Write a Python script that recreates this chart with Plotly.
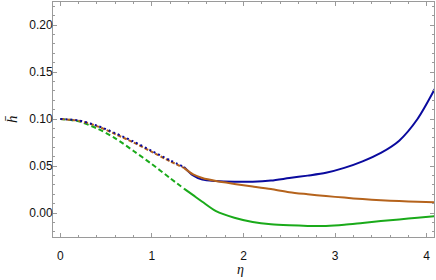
import plotly.graph_objects as go

# dashed / dotted (small-eta) part
eta_a = [0, 0.2, 0.4, 0.6, 0.8, 1.0, 1.2, 1.35]
blue_a = [0.100, 0.0985, 0.0930, 0.0850, 0.0760, 0.0660, 0.0560, 0.0490]
orange_a = [0.100, 0.0982, 0.0925, 0.0840, 0.0750, 0.0650, 0.0550, 0.0480]
green_a = [0.100, 0.0975, 0.0900, 0.0795, 0.0660, 0.0520, 0.0370, 0.0260]

# solid (large-eta) part
eta_b = [1.35, 1.45, 1.55, 1.7, 1.9, 2.1, 2.3, 2.5, 2.7, 2.9, 3.1, 3.3, 3.5, 3.7, 3.9, 4.1]
blue_b = [0.0490, 0.0400, 0.0355, 0.0340, 0.0333, 0.0333, 0.0345, 0.0372, 0.0398, 0.0428, 0.0480, 0.0550, 0.0640, 0.0770, 0.1000, 0.1340]
orange_b = [0.0480, 0.0410, 0.0372, 0.0340, 0.0310, 0.0283, 0.0255, 0.0222, 0.0200, 0.0180, 0.0164, 0.0148, 0.0136, 0.0127, 0.0120, 0.0113]
green_b = [0.0260, 0.0190, 0.0120, 0.0020, -0.0050, -0.0095, -0.0120, -0.0131, -0.0137, -0.0137, -0.0125, -0.0105, -0.0085, -0.0068, -0.0050, -0.0032]

BLUE = "#0a0a9e"
ORANGE = "#b5631c"
GREEN = "#1aaa1a"

W, H = 436, 280
ML, MR, MT, MB = 53, 2, 2, 43

fig = go.Figure()
for x, y, c, d in [
    (eta_a, green_a, GREEN, "5px,3px"),
    (eta_a, orange_a, ORANGE, "4px,2px"),
    (eta_a, blue_a, BLUE, "2px,3px"),
]:
    fig.add_trace(go.Scatter(x=x, y=y, mode="lines", line=dict(color=c, width=2, dash=d, shape="spline", smoothing=0.8), showlegend=False))
for x, y, c in [
    (eta_b, green_b, GREEN),
    (eta_b, blue_b, BLUE),
    (eta_b, orange_b, ORANGE),
]:
    fig.add_trace(go.Scatter(x=x, y=y, mode="lines", line=dict(color=c, width=2, shape="spline", smoothing=0.8), showlegend=False))

axis_common = dict(
    showgrid=False, zeroline=False, showline=True, linecolor="#9a9a9a", linewidth=1,
    mirror="allticks", ticks="inside", ticklen=4, tickcolor="#9a9a9a", tickwidth=1,
    tickfont=dict(family="Liberation Sans, Arial", size=12, color="#111"),
)
fig.update_xaxes(
    range=[-0.08, 4.08], tickvals=[0, 1, 2, 3, 4], ticktext=["0", "1", "2", "3", "4"],
    minor=dict(dtick=0.2, tick0=0, ticks="inside", ticklen=2, tickcolor="#9a9a9a"),
    ticklabelstandoff=8,
    **axis_common,
)
fig.update_yaxes(
    range=[-0.0255, 0.2245], tickvals=[0, 0.05, 0.1, 0.15, 0.2],
    ticktext=["0.00", "0.05", "0.10", "0.15", "0.20"],
    minor=dict(dtick=0.01, tick0=0, ticks="inside", ticklen=2, tickcolor="#9a9a9a"),
    ticklabelstandoff=-3,
    **axis_common,
)
pw = W - ML - MR
ph = H - MT - MB
title_font = dict(family="Liberation Serif, serif", size=14, color="#111")
fig.add_annotation(text="<i>h̄</i>", xref="paper", yref="paper",
                   x=(11.5 - ML) / pw, y=(H - MB - 119.5) / ph,
                   xanchor="center", yanchor="middle", textangle=-90,
                   showarrow=False, font=dict(family="Liberation Serif, serif", size=15, color="#111"))
fig.add_annotation(text="<i>η</i>", xref="paper", yref="paper",
                   x=(240 - ML) / pw, y=(H - MB - 269) / ph,
                   xanchor="center", yanchor="middle",
                   showarrow=False, font=title_font)
fig.update_layout(
    width=W, height=H, margin=dict(l=ML, r=MR, t=MT, b=MB),
    plot_bgcolor="white", paper_bgcolor="white",
)
fig.write_html("out.html", config={"displayModeBar": False},
               post_script="document.body.style.margin='0';document.body.style.overflow='hidden';")
